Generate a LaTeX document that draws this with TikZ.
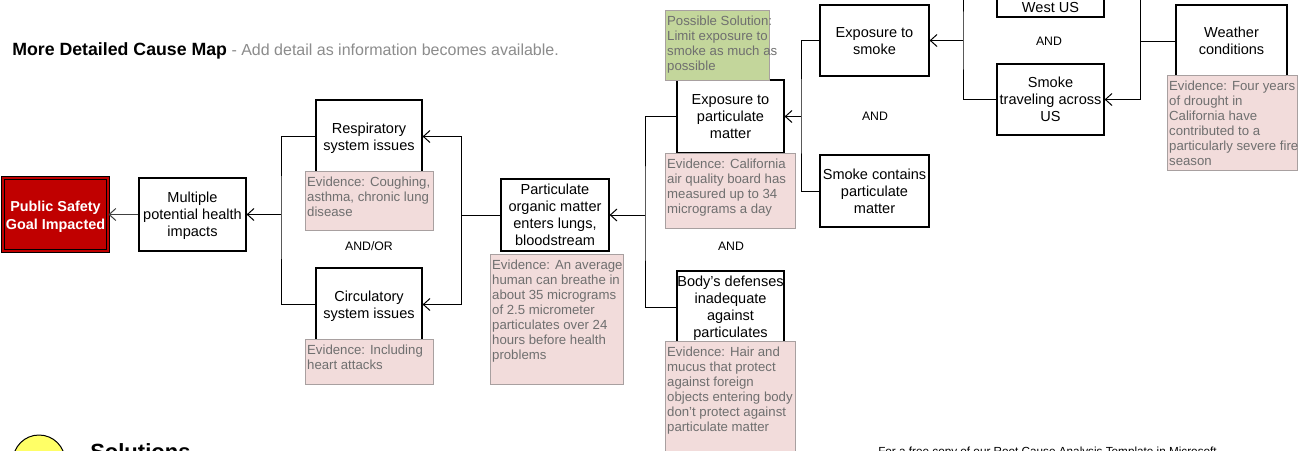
\documentclass[tikz,border=0pt]{standalone}
\usepackage{fontspec}
\setmainfont{Liberation Sans}
\usetikzlibrary{arrows.meta}
\definecolor{evfill}{HTML}{F2DCDB}
\definecolor{evdraw}{HTML}{A8A0A0}
\definecolor{evtext}{HTML}{6F6F6F}
\definecolor{solfill}{HTML}{C3D69B}
\definecolor{psred}{HTML}{C00000}
\definecolor{yel}{HTML}{FFFF66}
\definecolor{subgray}{HTML}{8C8C8C}

% box from corner (x1,y1) to (x2,y2), in px
\newcommand\bx[7][]{%
  \node[box,#1,minimum width=\dimexpr(#5pt-#3pt)*3/4\relax,
        minimum height=\dimexpr(#6pt-#4pt)*3/4\relax] (#2)
        at ({(#3+#5)/2},{(#4+#6)/2})
        {\raisebox{-1.5pt}[\height][\depth]{\begin{tabular}{@{}c@{}}#7\end{tabular}}};}
\newcommand\evb[7][ev]{%
  \node[#1,anchor=north west,inner sep=0pt,
        minimum width=\dimexpr(#5pt-#3pt)*3/4\relax,
        minimum height=\dimexpr(#6pt-#4pt)*3/4\relax] (#2) at (#3,#4)
   {\parbox[c][\dimexpr(#6pt-#4pt)*3/4\relax][t]{\dimexpr(#5pt-#3pt)*3/4-2.5pt\relax}{\vspace{3.4pt}\begin{tabular}{@{}l@{}}#7\end{tabular}}};}

\begin{document}
\begin{tikzpicture}[x=0.75pt,y=-0.75pt,
  box/.style={draw=black,line width=0.9pt,fill=white,inner sep=0pt,
              font=\fontsize{10.9}{12.75}\selectfont},
  ln/.style={draw=black,line width=0.75pt},
  arr/.style={ln,-{Straight Barb[length=5pt,width=9pt,line width=0.75pt]}},
  ev/.style={draw=evdraw,fill=evfill,line width=0.75pt,text=evtext,
             font=\fontsize{9.9}{11.25}\selectfont},
  solbox/.style={draw=evdraw,fill=solfill,line width=0.75pt,text=evtext,
             font=\fontsize{9.9}{11.25}\selectfont},
  andlbl/.style={font=\fontsize{9.2}{10}\selectfont,inner sep=0pt},
  ps/.style={draw=black,double=psred,double distance=1.3pt,line width=0.6pt,fill=psred,
             text=white,font=\fontsize{10.8}{13.5}\selectfont\bfseries}]
\useasboundingbox (0,0) rectangle (1300,450);
\clip (0,0) rectangle (1300,450);
\fill[white] (0,0) rectangle (1300,450);

% title
\node[anchor=base west,inner sep=0pt,font=\fontsize{12}{14}\selectfont] (title) at (12,55)
  {{\fontsize{13.3}{14}\selectfont\bfseries More Detailed Cause Map} \textcolor{subgray}{- Add detail as information becomes available.}};

% boxes
\bx[ps]{ps}{3}{178}{108}{251}{Public Safety\\Goal Impacted}
\bx{mult}{139}{178}{246}{251}{Multiple\\potential health\\impacts}
\bx{resp}{316}{100}{422}{173}{Respiratory\\system issues}
\bx{circ}{316}{268}{422}{341}{Circulatory\\system issues}
\bx{part}{501}{179}{609}{251}{Particulate\\organic matter\\enters lungs,\\bloodstream}
\bx{exppm}{677}{80}{784}{153}{Exposure to\\particulate\\matter}
\bx{body}{677}{271}{784}{343}{Body's defenses\\inadequate\\against\\particulates}
\bx{expsm}{820}{5}{929}{76}{Exposure to\\smoke}
\bx{smcont}{820}{155}{929}{227}{Smoke contains\\particulate\\matter}
\bx{smtrav}{997}{64}{1104}{135}{Smoke\\traveling across\\US}
\bx{weather}{1176}{5}{1287}{77}{Weather\\conditions}
\bx{west}{997}{-55}{1104}{17}{}
\node[font=\fontsize{10.9}{12.75}\selectfont,inner sep=0pt] (westt) at (1050.5,7) {West US};

% connectors
\coordinate (j1) at (281,214.5);
\draw[ln] (resp.west) -| (j1) |- (circ.west);
\draw[arr] (j1) -- (mult.east);
\draw[arr,draw=black!75] (mult.west) -- (ps.east);

\coordinate (j2) at (461,215);
\draw[ln] (j2) -- (part.west);
\draw[arr] (j2) |- (resp.east);
\draw[arr] (j2) |- (circ.east);

\coordinate (j3) at (645,215);
\draw[arr] (j3) -- (part.east);
\draw[ln] (exppm.west) -| (j3) |- (body.west);

\coordinate (j4) at (801,116.5);
\draw[arr] (j4) -- (exppm.east);
\draw[ln] (expsm.west) -| (j4) |- (smcont.west);

\coordinate (j5) at (963,40.5);
\draw[arr] (j5) -- (expsm.east);
\draw[ln] (west.west) -| (j5) |- (smtrav.west);

\coordinate (j6) at (1140,41);
\draw[ln] (j6) -- (weather.west);
\draw[arr] (j6) |- (west.east);
\draw[arr] (j6) |- (smtrav.east);

% evidence
\evb{evresp}{305}{171}{433}{230}{Evidence: Coughing,\\asthma, chronic lung\\disease}
\evb{evcirc}{305}{339}{433}{384}{Evidence: Including\\heart attacks}
\evb{evpart}{490}{254}{623}{384}{Evidence: An average\\human can breathe in\\about 35 micrograms\\of 2.5 micrometer\\particulates over 24\\hours before health\\problems}
\evb{evexppm}{665}{153}{795}{228}{Evidence: California\\air quality board has\\measured up to 34\\micrograms a day}
\evb{evbody}{665}{341}{795}{470}{Evidence: Hair and\\mucus that protect\\against foreign\\objects entering body\\don't protect against\\particulate matter}
\evb{evweather}{1167}{75}{1297}{170}{Evidence: Four years\\of drought in\\California have\\contributed to a\\particularly severe fire\\season}
\evb[solbox]{solution}{665}{10}{769}{80}{Possible Solution:\\Limit exposure to\\smoke as much as\\possible}

% AND labels
\node[andlbl] (andor) at (369,246) {AND/OR};
\node[andlbl] (and1) at (731,246) {AND};
\node[andlbl] (and2) at (875,116) {AND};
\node[andlbl] (and3) at (1049,41) {AND};

% bottom
\node[circle,draw=black,line width=0.75pt,fill=yel,minimum size=39pt,inner sep=0pt] (solc) at (39,461) {};
\node[anchor=base west,inner sep=0pt,font=\fontsize{16.5}{18}\selectfont\bfseries] (solt) at (90,459) {Solutions};
\node[anchor=base west,inner sep=0pt,font=\fontsize{8.8}{10}\selectfont] (foot) at (878,455) {For a free copy of our Root Cause Analysis Template in Microsoft};
\end{tikzpicture}
\end{document}
